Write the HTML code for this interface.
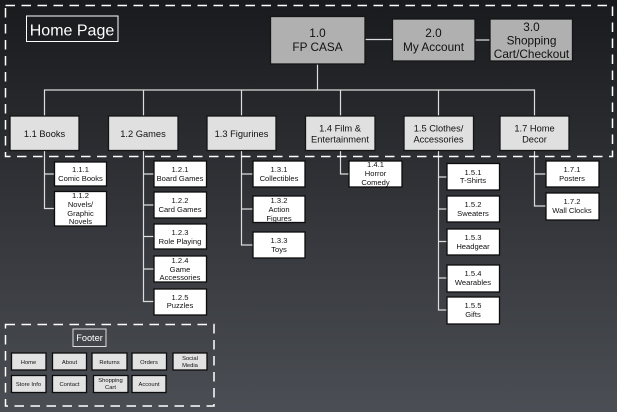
<!DOCTYPE html>
<html><head><meta charset="utf-8">
<style>
html,body{margin:0;padding:0;width:617px;height:412px;overflow:hidden;background:#2c2e33}
svg{display:block;font-family:"Liberation Sans",sans-serif;filter:blur(.3px)}
text{text-anchor:middle;fill:#111}
.top rect{fill:#b0b0b0;stroke:#151515;stroke-width:1.300}
.top text{font-size:11.800px}
.l1 rect{fill:#e0e0e0;stroke:#151515;stroke-width:1.300}
.l1 text{font-size:9.300px}
.c rect{fill:#fff;stroke:#0c0c0c;stroke-width:1.300}
.c text{font-size:7.600px}
.f rect{fill:#e2e2e2;stroke:#0c0c0c;stroke-width:1.300}
.f text{font-size:5.800px}
.ln path{fill:none;stroke:#dcdcdc;stroke-width:1.200}
.dash{fill:none;stroke:#fff;stroke-width:1.500;stroke-dasharray:9.500 6.500}
</style></head><body>
<svg width="617" height="412" viewBox="0 0 617 412" xmlns="http://www.w3.org/2000/svg">
<defs><linearGradient id="bg" x1="0" y1="0" x2="0" y2="1"><stop offset="0" stop-color="#191a1d"/><stop offset="1" stop-color="#4b4e54"/></linearGradient></defs>
<rect width="617" height="412" fill="url(#bg)"/>

<g class="ln">
<path d="M317.500 64V90M44.500 116V90H534.500V116M143.500 90V116M241.500 90V116M340.500 90V116M438.500 90V116"/>
<path d="M365 39.500H393M475 40H490"/>
<path d="M44.500 150V208.500H54M44.500 174H54"/>
<path d="M143.500 150V301.500H154M143.500 174H154M143.500 205H154M143.500 236.500H154M143.500 269H154"/>
<path d="M241.500 150V245H253M241.500 174H253M241.500 209H253"/>
<path d="M340.500 150V174H349"/>
<path d="M438.500 150V310H447M438.500 177H447M438.500 209H447M438.500 241.500H447M438.500 278H447"/>
<path d="M534.500 150V206H546M534.500 174H546"/>
</g>

<rect class="dash" x="5.500" y="5.500" width="607" height="151"/>
<rect class="dash" x="5.500" y="324.500" width="208.500" height="81.500"/>

<rect x="26.500" y="16" width="91.500" height="25.500" fill="none" stroke="#fff"/>
<text x="72" y="35.500" font-size="16" style="fill:#fff">Home Page</text>
<rect x="73" y="329" width="33" height="17.500" fill="none" stroke="#ddd"/>
<text x="89.500" y="341" font-size="9.200" style="fill:#fff">Footer</text>

<g class="top">
<rect x="270.500" y="16.500" width="94.500" height="47.500"/><text x="317.500" y="37">1.0</text><text x="317.500" y="51">FP CASA</text>
<rect x="392.500" y="19" width="82.500" height="42"/><text x="433.500" y="37">2.0</text><text x="433.500" y="51">My Account</text>
<rect x="490" y="19" width="82.500" height="42"/><text x="531.500" y="31">3.0</text><text x="531.500" y="44.500">Shopping</text><text x="531.500" y="58">Cart/Checkout</text>
</g>

<g class="l1">
<rect x="10" y="116" width="69" height="34.500"/><text x="44.500" y="137">1.1 Books</text>
<rect x="108.500" y="116" width="69.500" height="34.500"/><text x="143" y="137">1.2 Games</text>
<rect x="207" y="116" width="69" height="34.500"/><text x="241.500" y="137">1.3 Figurines</text>
<rect x="305.500" y="116" width="69.500" height="34.500"/><text x="340" y="131.500">1.4 Film &amp;</text><text x="340" y="142.500">Entertainment</text>
<rect x="404" y="116" width="69.500" height="34.500"/><text x="438.500" y="131.500">1.5 Clothes/</text><text x="438.500" y="142.500">Accessories</text>
<rect x="500" y="116" width="69" height="34.500"/><text x="534.500" y="131.500">1.7 Home</text><text x="534.500" y="142.500">Decor</text>
</g>

<g class="c">
<rect x="54.500" y="162" width="52" height="24"/><text x="80.500" y="172">1.1.1</text><text x="80.500" y="181">Comic Books</text>
<rect x="54.500" y="191.500" width="52" height="34.500"/><text x="80.500" y="198">1.1.2</text><text x="80.500" y="207">Novels/</text><text x="80.500" y="216">Graphic</text><text x="80.500" y="224">Novels</text>

<rect x="154" y="161" width="52.500" height="26"/><text x="180" y="172">1.2.1</text><text x="180" y="181">Board Games</text>
<rect x="154" y="192" width="52.500" height="26"/><text x="180" y="203">1.2.2</text><text x="180" y="212">Card Games</text>
<rect x="154" y="224" width="52.500" height="25"/><text x="180" y="235">1.2.3</text><text x="180" y="244">Role Playing</text>
<rect x="154" y="256" width="52.500" height="26"/><text x="180" y="263">1.2.4</text><text x="180" y="272">Game</text><text x="180" y="280">Accessories</text>
<rect x="154" y="289" width="52.500" height="26"/><text x="180" y="300">1.2.5</text><text x="180" y="308">Puzzles</text>

<rect x="253" y="161" width="52" height="26"/><text x="279" y="172">1.3.1</text><text x="279" y="181">Collectibles</text>
<rect x="253" y="196" width="52" height="26.500"/><text x="279" y="203">1.3.2</text><text x="279" y="212">Action</text><text x="279" y="221">Figures</text>
<rect x="253" y="232" width="52" height="26"/><text x="279" y="243">1.3.3</text><text x="279" y="252">Toys</text>

<rect x="349" y="161" width="53" height="26"/><text x="375.500" y="167">1.4.1</text><text x="375.500" y="176">Horror</text><text x="375.500" y="185">Comedy</text>

<rect x="447" y="163.500" width="52.500" height="26.500"/><text x="473" y="175">1.5.1</text><text x="473" y="183">T-Shirts</text>
<rect x="447" y="196" width="52.500" height="26"/><text x="473" y="207">1.5.2</text><text x="473" y="216">Sweaters</text>
<rect x="447" y="229" width="52.500" height="26"/><text x="473" y="240">1.5.3</text><text x="473" y="249">Headgear</text>
<rect x="447" y="265" width="52.500" height="27"/><text x="473" y="276">1.5.4</text><text x="473" y="285">Wearables</text>
<rect x="447" y="297" width="52.500" height="27"/><text x="473" y="308">1.5.5</text><text x="473" y="317">Gifts</text>

<rect x="546" y="161" width="53" height="26"/><text x="572" y="172">1.7.1</text><text x="572" y="181">Posters</text>
<rect x="546" y="193" width="53" height="27"/><text x="572" y="204">1.7.2</text><text x="572" y="213">Wall Clocks</text>
</g>

<g class="f">
<rect x="11.500" y="353" width="34.500" height="17"/><text x="28.500" y="364">Home</text>
<rect x="52.500" y="353" width="34" height="17"/><text x="69.500" y="364">About</text>
<rect x="92" y="353" width="35" height="17"/><text x="109.500" y="364">Returns</text>
<rect x="132" y="353" width="34.500" height="17"/><text x="149" y="364">Orders</text>
<rect x="173" y="353" width="34" height="17"/><text x="190" y="360">Social</text><text x="190" y="367">Media</text>
<rect x="11.500" y="375.500" width="34.500" height="17"/><text x="28.500" y="386">Store Info</text>
<rect x="52.500" y="375.500" width="34" height="17"/><text x="69.500" y="386">Contact</text>
<rect x="93.500" y="375.500" width="34.500" height="17"/><text x="110.500" y="382">Shopping</text><text x="110.500" y="389">Cart</text>
<rect x="132" y="375.500" width="34" height="17"/><text x="149" y="386">Account</text>
</g>
</svg>
</body></html>
